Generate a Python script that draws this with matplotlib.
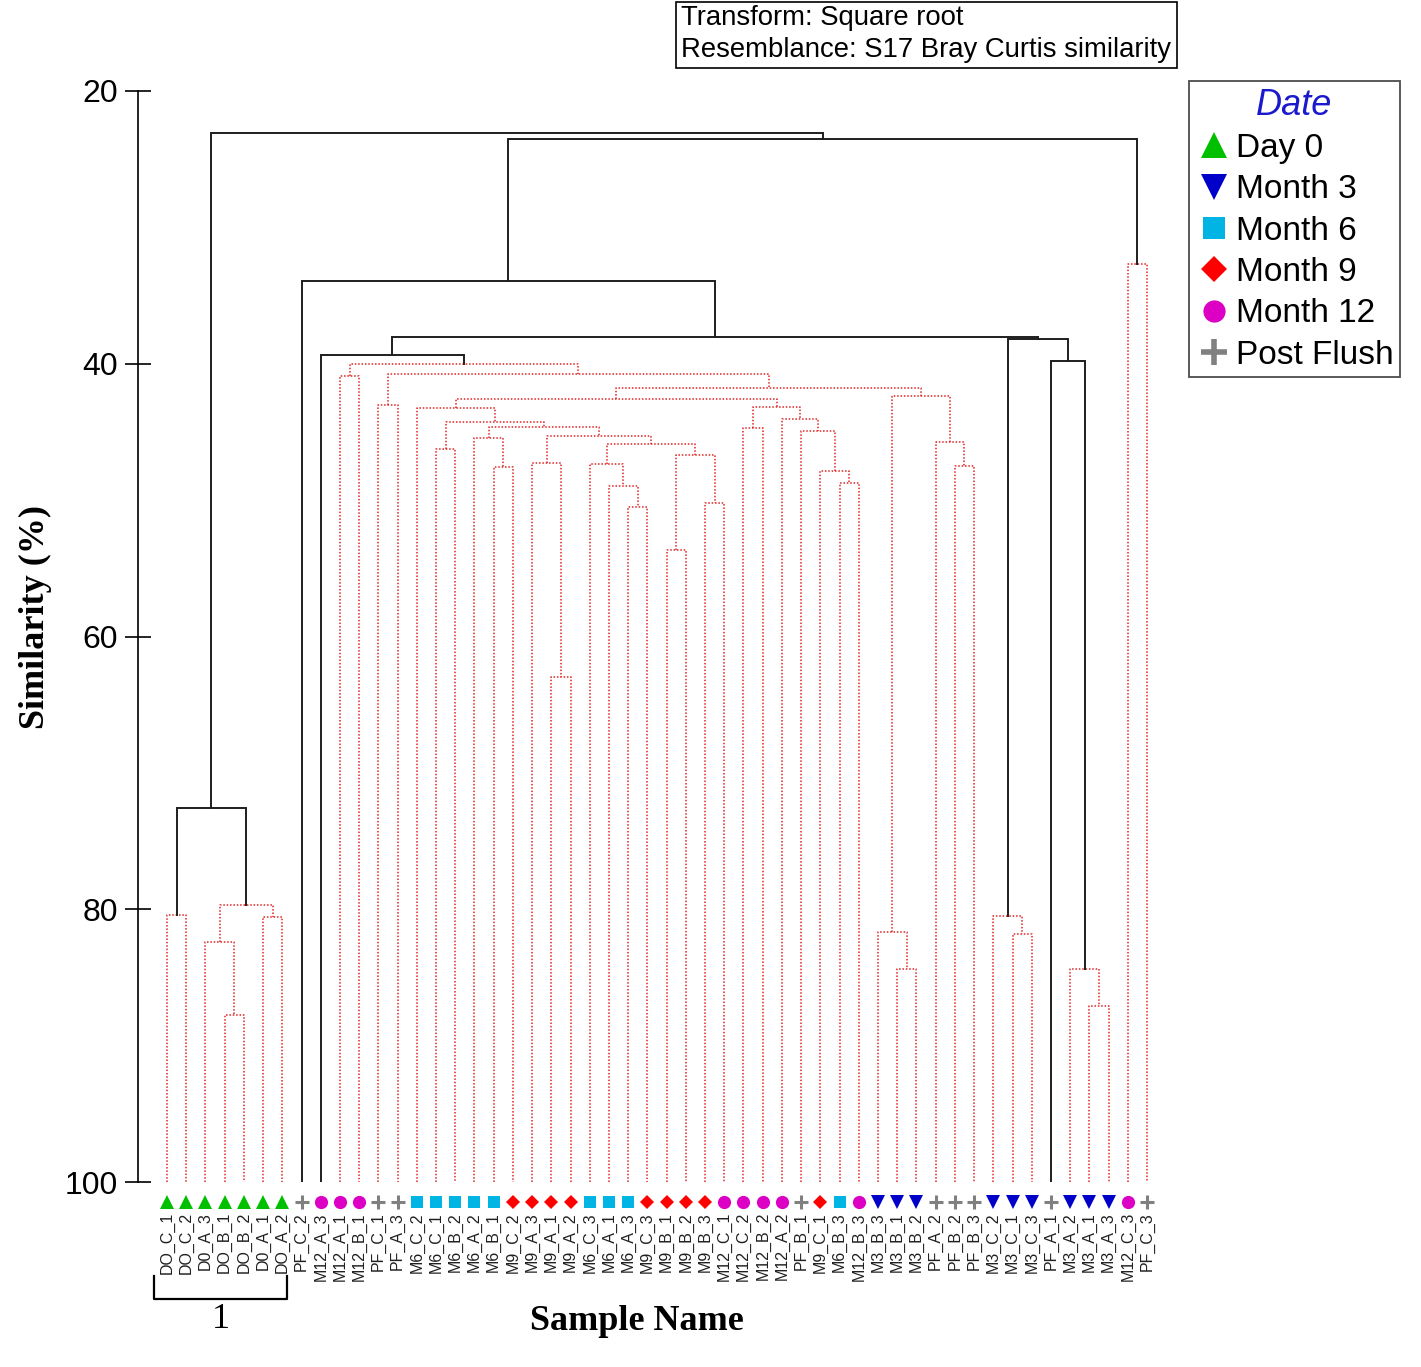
import numpy as np
import matplotlib.pyplot as plt
from matplotlib.lines import Line2D
from matplotlib.patches import Rectangle

plt.rcParams['font.family'] = ['Liberation Sans', 'DejaVu Sans']

W, H = 1421, 1367

# leaf order along the x axis
samples = ['DO_C_1', 'DO_C_2', 'D0_A_3', 'DO_B_1', 'DO_B_2', 'D0_A_1', 'DO_A_2',
           'PF_C_2', 'M12_A_3', 'M12_A_1', 'M12_B_1', 'PF_C_1', 'PF_A_3',
           'M6_C_2', 'M6_C_1', 'M6_B_2', 'M6_A_2', 'M6_B_1', 'M9_C_2', 'M9_A_3',
           'M9_A_1', 'M9_A_2', 'M6_C_3', 'M6_A_1', 'M6_A_3', 'M9_C_3', 'M9_B_1',
           'M9_B_2', 'M9_B_3', 'M12_C_1', 'M12_C_2', 'M12_B_2', 'M12_A_2', 'PF_B_1',
           'M9_C_1', 'M6_B_3', 'M12_B_3', 'M3_B_3', 'M3_B_1', 'M3_B_2', 'PF_A_2',
           'PF_B_2', 'PF_B_3', 'M3_C_2', 'M3_C_1', 'M3_C_3', 'PF_A_1', 'M3_A_2',
           'M3_A_1', 'M3_A_3', 'M12_C_3', 'PF_C_3']

prefix_date = {'DO': 'Day 0', 'D0': 'Day 0', 'M3': 'Month 3', 'M6': 'Month 6',
               'M9': 'Month 9', 'M12': 'Month 12', 'PF': 'Post Flush'}
date_names = ['Day 0', 'Month 3', 'Month 6', 'Month 9', 'Month 12', 'Post Flush']
date_style = {'Day 0': ('^', '#00c000'), 'Month 3': ('v', '#0000c8'),
              'Month 6': ('s', '#00b4e4'), 'Month 9': ('D', '#ff0000'),
              'Month 12': ('o', '#dc00c4'), 'Post Flush': ('+', '#808080')}

# merges: (node a, node b, similarity %, significant split)
# nodes 0..51 are leaves, merge k becomes node 52+k
merges = [
    (0, 1, 80.4, False),     # 52
    (3, 4, 87.75, False),    # 53
    (2, 53, 82.4, False),    # 54
    (5, 6, 80.6, False),     # 55
    (54, 55, 79.7, False),   # 56
    (52, 56, 72.6, True),    # 57
    (9, 10, 40.9, False),    # 58
    (11, 12, 43.0, False),   # 59
    (14, 15, 46.25, False),  # 60
    (17, 18, 47.57, False),  # 61
    (16, 61, 45.44, False),  # 62
    (20, 21, 62.97, False),  # 63
    (19, 63, 47.28, False),  # 64
    (24, 25, 50.5, False),   # 65
    (23, 65, 48.96, False),  # 66
    (22, 66, 47.35, False),  # 67
    (26, 27, 53.66, False),  # 68
    (28, 29, 50.21, False),  # 69
    (68, 69, 46.69, False),  # 70
    (67, 70, 45.88, False),  # 71
    (64, 71, 45.3, False),   # 72
    (62, 72, 44.64, False),  # 73
    (60, 73, 44.27, False),  # 74
    (13, 74, 43.24, False),  # 75
    (30, 31, 44.71, False),  # 76
    (35, 36, 48.74, False),  # 77
    (34, 77, 47.86, False),  # 78
    (33, 78, 44.93, False),  # 79
    (32, 79, 44.05, False),  # 80
    (76, 80, 43.17, False),  # 81
    (75, 81, 42.58, False),  # 82
    (38, 39, 84.38, False),  # 83
    (37, 83, 81.67, False),  # 84
    (41, 42, 47.5, False),   # 85
    (40, 85, 45.74, False),  # 86
    (84, 86, 42.36, False),  # 87
    (82, 87, 41.78, False),  # 88
    (59, 88, 40.75, False),  # 89
    (58, 89, 40.02, False),  # 90
    (8, 90, 39.36, True),    # 91
    (44, 45, 81.81, False),  # 92
    (43, 92, 80.49, False),  # 93
    (48, 49, 87.09, False),  # 94
    (47, 94, 84.38, False),  # 95
    (46, 95, 39.8, True),    # 96
    (93, 96, 38.19, True),   # 97
    (91, 97, 38.04, True),   # 98
    (7, 98, 33.93, True),    # 99
    (50, 51, 32.69, False),  # 100
    (99, 100, 23.52, True),  # 101
    (57, 101, 23.08, True),  # 102
]

yticks = [20, 40, 60, 80, 100]

fig = plt.figure(figsize=(W / 100, H / 100), dpi=100)
ax = fig.add_axes([138 / W, 1 - 1182 / H, (1180 - 138) / W, (1182 - 91) / H])

n = len(samples)
pos = {i: (float(i), 100.0) for i in range(n)}
for k, (a, b, s, sig) in enumerate(merges):
    xa, ha = pos[a]
    xb, hb = pos[b]
    if sig:
        kw = dict(color='#1e1e1e', lw=1.4, ls='-')
    else:
        kw = dict(color='#e02424', lw=1.1, ls=(0, (1, 1.2)))
    ax.plot([xa, xa, xb, xb], [ha, s, s, hb], solid_joinstyle='miter', **kw)
    pos[n + k] = ((xa + xb) / 2, s)

# markers and labels under the leaves
leaf_dates = [prefix_date[s.split('_')[0]] for s in samples]
msize = {'^': 10, 'v': 10, 's': 8.5, 'D': 7, 'o': 9.5, '+': 10}
for d in date_names:
    idx = [i for i, ld in enumerate(leaf_dates) if ld == d]
    m, c = date_style[d]
    ax.plot(idx, [101.47] * len(idx), ls='none', marker=m, color=c, ms=msize[m],
            mew=2.2 if m == '+' else 0, clip_on=False)
for i, s in enumerate(samples):
    ax.text(i, 102.2, s, rotation=90, ha='center', va='top', fontsize=11.5,
            color='#202020', clip_on=False)

ax.set_xlim((138 - 167) / 19.216, (1180 - 167) / 19.216)
ax.set_ylim(100, 20)
ax.set_xticks([])
ax.set_yticks(yticks)
ax.tick_params(axis='y', direction='inout', length=18.7, width=1.2, pad=5, labelsize=23)
for sp in ['top', 'right', 'bottom']:
    ax.spines[sp].set_visible(False)
ax.spines['left'].set_linewidth(1.2)

# bracket under Day 0 group
bx0, bx1 = (154 - 167) / 19.216, (287 - 167) / 19.216
ax.plot([bx0, bx0, bx1, bx1], [106.9, 108.6, 108.6, 106.9], color='black', lw=1.6,
        clip_on=False)
fig.text(221 / W, 1 - 1320 / H, '1', ha='center', va='center', fontsize=26,
         family='Liberation Serif')

fig.text(637 / W, 1 - 1322 / H, 'Sample Name', ha='center', va='center', fontsize=26,
         family='Liberation Serif', weight='bold')
fig.text(35 / W, 1 - 617 / H, 'Similarity (%)', ha='center', va='center', fontsize=26,
         family='Liberation Serif', weight='bold', rotation=90)

# info box
fig.add_artist(Rectangle((676 / W, 1 - 68 / H), (1177 - 676) / W, 66 / H,
                         transform=fig.transFigure, fill=False, lw=1.2, ec='black'))
fig.text(681 / W, 1 - 18 / H, 'Transform: Square root', va='center', fontsize=19.8)
fig.text(681 / W, 1 - 50 / H, 'Resemblance: S17 Bray Curtis similarity', va='center',
         fontsize=19.8)

# legend
lsize = {'^': 19, 'v': 19, 's': 16, 'D': 13.5, 'o': 16, '+': 19}
handles = []
for d in date_names:
    m, c = date_style[d]
    handles.append(Line2D([], [], ls='none', marker=m, color=c, ms=lsize[m],
                          mew=4 if m == '+' else 0))
leg = fig.legend(handles, date_names, loc='upper left',
                 bbox_to_anchor=(1189 / W, 1 - 81 / H), fontsize=24, title='Date',
                 frameon=True, fancybox=False, edgecolor='#202020', borderpad=0.2,
                 handlelength=1.1, handletextpad=0.1, labelspacing=0.31,
                 borderaxespad=0)
leg.get_frame().set_linewidth(1.3)
leg.get_title().set_fontsize(26)
leg.get_title().set_style('italic')
leg.get_title().set_color('#1a1acc')

fig.savefig('out.png', dpi=100)
